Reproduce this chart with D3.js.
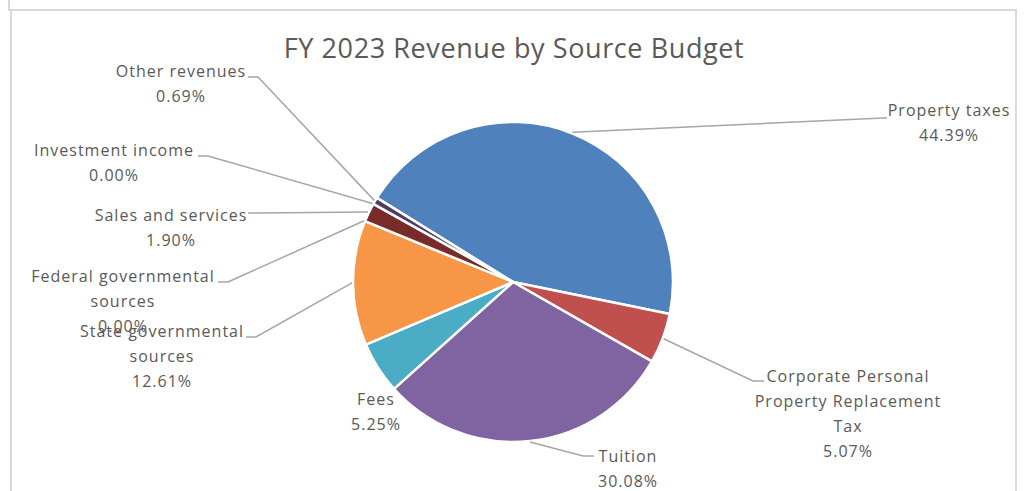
<!DOCTYPE html>
<html>
<head>
<meta charset="utf-8">
<script src="https://cdn.jsdelivr.net/npm/d3@7"></script>
<style>
  html, body { margin: 0; padding: 0; background: #fff; }
  svg { display: block; }
</style>
</head>
<body>
<div id="chart"></div>
<script>
// revenue shares, in the order the slices are drawn (clockwise)
const categories = [
  "Property taxes",
  "Corporate Personal Property Replacement Tax",
  "Tuition",
  "Fees",
  "State governmental sources",
  "Federal governmental sources",
  "Sales and services",
  "Investment income",
  "Other revenues"
];
const shares = [44.39, 5.07, 30.08, 5.25, 12.61, 0.00, 1.90, 0.00, 0.69];
const sliceColors = ["#4F81BD", "#C0504D", "#8064A2", "#4BACC6", "#F79646",
                     "#9BBB59", "#772C2A", "#2C4D75", "#4D3B62"];
// label text lines as Excel wrapped them
const labelLines = [
  ["Property taxes"],
  ["Corporate Personal", "Property Replacement", "Tax"],
  ["Tuition"],
  ["Fees"],
  ["State governmental", "sources"],
  ["Federal governmental", "sources"],
  ["Sales and services"],
  ["Investment income"],
  ["Other revenues"]
];

const W = 1027, H = 491;
const cx = 513, cy = 282, R = 160;
const firstAngle = -58.3 * Math.PI / 180;

// where each data label sits (centre x, first baseline y) and its leader elbow
const labelPos = [
  { x: 949, y: 116, elbow: [883, 118], end: [887, 118] },
  { x: 848, y: 382, elbow: [753, 381], end: [764, 381] },
  { x: 628, y: 462, elbow: [583, 456], end: [594, 456] },
  { x: 376, y: 405, elbow: null },
  { x: 162, y: 337, elbow: [256, 337], end: [246, 337] },
  { x: 123, y: 282, elbow: [228, 282], end: [218, 282] },
  { x: 171, y: 221, elbow: [258, 213], end: [248, 213] },
  { x: 114, y: 156, elbow: [208, 156], end: [198, 156] },
  { x: 181, y: 77, elbow: [258, 77], end: [248, 77] }
];

const data = categories.map((c, i) => ({ name: c, value: shares[i], i: i }));

const svg = d3.select("#chart").append("svg")
    .attr("width", W)
    .attr("height", H);

// chart area frame
svg.append("line").attr("x1", 9).attr("x2", 9).attr("y1", 0).attr("y2", 11)
    .attr("stroke", "#d9d9d9").attr("stroke-width", 2);
svg.append("rect")
    .attr("x", 11).attr("y", 10)
    .attr("width", 1005).attr("height", 500)
    .attr("fill", "none")
    .attr("stroke", "#d9d9d9")
    .attr("stroke-width", 2);

svg.append("text")
    .attr("x", 514)
    .attr("y", 58)
    .attr("text-anchor", "middle")
    .style("font-family", "'Open Sans', sans-serif")
    .style("font-size", "27px")
    .style("letter-spacing", "0.6px")
    .style("fill", "#595959")
    .text("FY 2023 Revenue by Source Budget");

const pie = d3.pie()
    .sort(null)
    .value(d => d.value)
    .startAngle(firstAngle)
    .endAngle(firstAngle + 2 * Math.PI);

const arcs = pie(data);

const arc = d3.arc().innerRadius(0).outerRadius(R);
const edgeArc = d3.arc().innerRadius(R + 1).outerRadius(R + 1);

const g = svg.append("g").attr("transform", `translate(${cx},${cy})`);

g.selectAll("path.slice")
    .data(arcs.filter(d => d.data.value > 0))
    .enter()
    .append("path")
    .attr("class", "slice")
    .attr("d", arc)
    .attr("fill", d => sliceColors[d.data.i])
    .attr("stroke", "#fff")
    .attr("stroke-width", 2.5)
    .attr("stroke-linejoin", "round");

// leader lines
const lines = svg.append("g");
arcs.forEach(d => {
    const p = labelPos[d.data.i];
    if (!p.elbow) return;
    const c = edgeArc.centroid(d);
    const pts = [[cx + c[0], cy + c[1]], p.elbow, p.end];
    lines.append("path")
        .attr("d", d3.line()(pts))
        .attr("fill", "none")
        .attr("stroke", "#a6a6a6")
        .attr("stroke-width", 1.5);
});

// data labels
const labels = svg.append("g")
    .style("font-family", "'Open Sans', sans-serif")
    .style("font-size", "16px")
    .style("letter-spacing", "1px")
    .style("fill", "#595959")
    .attr("text-anchor", "middle");

arcs.forEach(d => {
    const p = labelPos[d.data.i];
    const rows = labelLines[d.data.i].concat([d.data.value.toFixed(2) + "%"]);
    const t = labels.append("text").attr("x", p.x).attr("y", p.y);
    rows.forEach((r, k) => {
        t.append("tspan")
            .attr("x", p.x)
            .attr("dy", k === 0 ? 0 : 25)
            .text(r);
    });
});
</script>
</body>
</html>
